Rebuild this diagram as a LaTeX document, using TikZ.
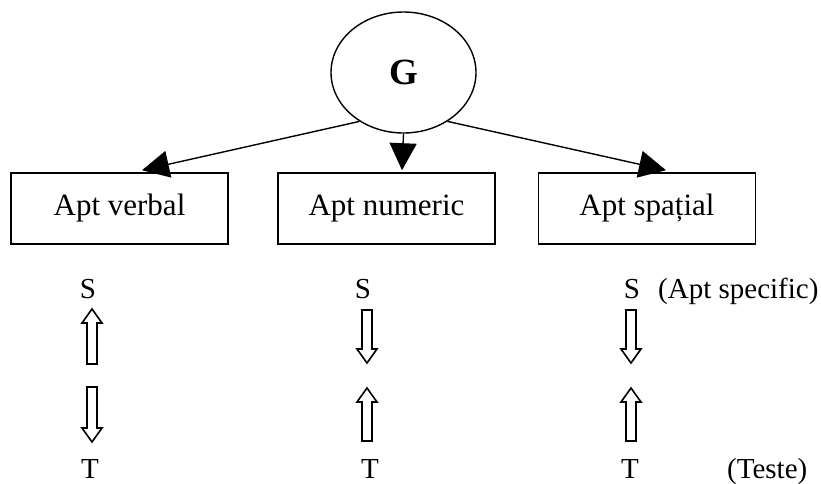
\documentclass[tikz,border=0pt]{standalone}
\usepackage{fontspec}
\setmainfont{Liberation Serif}
\usetikzlibrary{shapes.geometric,arrows.meta}
\newcommand\blkdown[3]{\draw[blk] (#1-5,#2) -- (#1+5,#2) -- (#1+5,#3-14) -- (#1+10,#3-14) -- (#1,#3) -- (#1-10,#3-14) -- (#1-5,#3-14) -- cycle;}
\newcommand\blkup[3]{\draw[blk] (#1-5,#3) -- (#1+5,#3) -- (#1+5,#2+14) -- (#1+10,#2+14) -- (#1,#2) -- (#1-10,#2+14) -- (#1-5,#2+14) -- cycle;}
\begin{document}
\begin{tikzpicture}[x=1pt,y=-1pt,
  boxnode/.style={draw, line width=1.6pt, minimum width=217pt, minimum height=71pt, inner sep=0pt, font=\fontsize{31}{36}\selectfont},
  lbl/.style={anchor=base, inner sep=0pt, font=\fontsize{29}{34}\selectfont},
  conn/.style={line width=1.4pt, -{Triangle[length=27pt,width=27pt]}},
  blk/.style={line width=1.6pt, line join=miter}]
\useasboundingbox (0,0) rectangle (821,483);
\node[ellipse, draw, line width=1.4pt, minimum width=145pt, minimum height=121pt, inner sep=0pt,
  font=\fontsize{37}{42}\selectfont\bfseries] (G) at (403.5,72.5) {G};
\node[boxnode] (verbal) at (119.5,208.5) {Apt verbal};
\node[boxnode] (numeric) at (386.5,208.5) {Apt numeric};
\node[boxnode] (spatial) at (647,208.5) {Apt spațial};
\draw[conn] (G.228) -- ([xshift=22.5pt,yshift=2pt]verbal.north);
\draw[conn] (G.south) -- ([xshift=15.5pt,yshift=2pt]numeric.north);
\draw[conn] (G.312) -- ([xshift=19pt,yshift=2pt]spatial.north);
\node[lbl] (s1) at (88,298) {S};
\node[lbl] (s2) at (363,298) {S};
\node[lbl] (s3) at (632,298) {S};
\node[lbl, anchor=base west] (spec) at (658,298) {(Apt specific)};
\node[lbl] (t1) at (90,478) {T};
\node[lbl] (t2) at (370,478) {T};
\node[lbl] (t3) at (630,478) {T};
\node[lbl, anchor=base west] (teste) at (727,478) {(Teste)};
\blkup{92}{309}{364}
\blkdown{92}{387}{442}
\blkdown{367}{310}{363}
\blkup{367}{388}{441}
\blkdown{631}{310}{363}
\blkup{631}{388}{441}
\end{tikzpicture}
\end{document}
